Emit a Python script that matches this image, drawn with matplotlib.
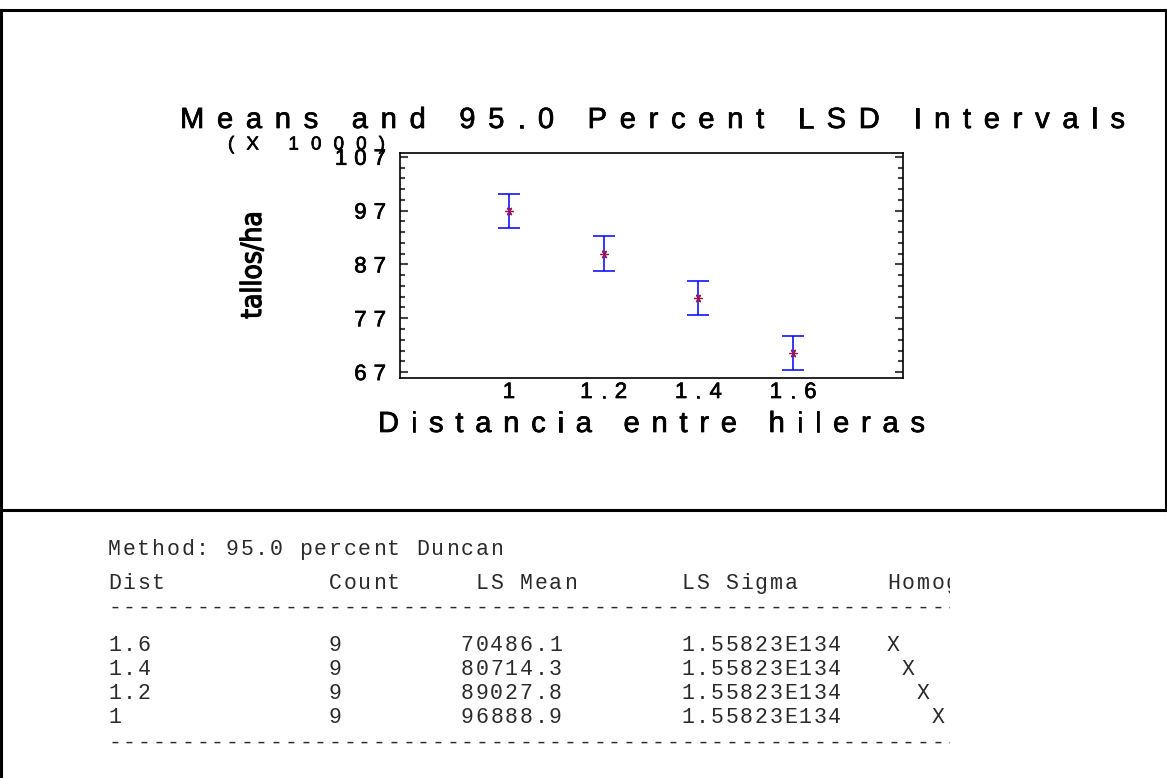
import matplotlib
matplotlib.use('Agg')
import matplotlib.pyplot as plt
import matplotlib.patheffects as pe
import numpy as np
from matplotlib.font_manager import FontProperties, findfont, get_font
from matplotlib.lines import Line2D
from matplotlib.transforms import Bbox

# data (LS means and LSD half widths, tallos/ha)
dist = [1.0, 1.2, 1.4, 1.6]
means = [96888.9, 89027.8, 80714.3, 70486.1]
lsd_half = [3170, 3170, 3170, 3170]
counts = [9, 9, 9, 9]
ls_sigma = ['1.55823E134', '1.55823E134', '1.55823E134', '1.55823E134']
yticks = [67, 77, 87, 97, 107]

W, H = 1167, 778
fig = plt.figure(figsize=(W / 100, H / 100), dpi=100)
heavy = [pe.withStroke(linewidth=0.5, foreground='black')]


def fx(x):
    return x / W


def fy(y):
    return 1 - y / H


def advances(s, fp):
    font = get_font(findfont(fp))
    font.set_size(fp.get_size_in_points(), 100)
    return [font.load_char(ord(c)).linearHoriAdvance / 65536 for c in s]


def spaced(s, x, base, size, track=0.0, ha='left', fit=None, family='Liberation Sans'):
    """draw text char by char with extra letter spacing (pixel coords, top origin)"""
    fp = FontProperties(family=family, size=size)
    adv = advances(s, fp)
    if fit is not None:
        track = (fit[1] - fit[0] - sum(adv)) / max(len(s) - 1, 1)
        x, ha = fit[0], 'left'
    total = sum(adv) + track * (len(s) - 1)
    if ha == 'center':
        x = x - total / 2
    elif ha == 'right':
        x = x - total
    for c, a in zip(s, adv):
        if c != ' ':
            fig.text(fx(x), fy(base), c, fontproperties=fp, color='black',
                     ha='left', va='baseline', path_effects=heavy)
        x += a + track


# frame lines
lw = 2.2
fig.add_artist(Line2D([0, 1], [fy(10), fy(10)], color='black', lw=lw))
fig.add_artist(Line2D([0, 1], [fy(510), fy(510)], color='black', lw=lw))
fig.add_artist(Line2D([fx(1.2), fx(1.2)], [0, fy(10)], color='black', lw=lw))
fig.add_artist(Line2D([fx(1165.5), fx(1165.5)], [fy(510), fy(10)], color='black', lw=lw))

# plot
ax = fig.add_axes([fx(400), fy(378), 503 / W, 225 / H])
means_k = [m / 1000 for m in means]
half_k = [h / 1000 for h in lsd_half]
ax.errorbar(dist, means_k, yerr=half_k, fmt='none', ecolor='#0000ff',
            elinewidth=1.1, capsize=8, capthick=1.1)
ax.plot(dist, means_k, linestyle='none', marker=(6, 2, 90), ms=6,
        mec='#9c1450', mew=0.9)
ax.set_xlim(0.77, 1.832)
ax.set_ylim(65.9, 107.7)
ax.set_xticks(dist)
ax.set_yticks(yticks)
ax.set_yticks(np.arange(67, 108, 2), minor=True)
ax.tick_params(axis='y', which='both', direction='in', left=True, right=True,
               labelleft=False, color='#444444', width=1.5)
ax.tick_params(axis='y', which='major', length=6)
ax.tick_params(axis='y', which='minor', length=3.5)
ax.tick_params(axis='x', which='both', length=0, labelbottom=False)
for sp in ax.spines.values():
    sp.set_linewidth(1.2)

# tick labels with the wide letter spacing of the original
for v in yticks:
    _, py = ax.transData.transform((1.0, v))
    spaced(str(v), 386, H - py + 8, 16, track=7, ha='right')
for d in dist:
    px, _ = ax.transData.transform((d, 70))
    spaced(f'{d:g}', px, 398, 16, track=8, ha='center')

spaced('Means and 95.0 Percent LSD Intervals', 0, 128, 21, fit=(180, 1125))
spaced('(X 1000)', 0, 149.5, 13.5, fit=(228, 385))
spaced('Distancia entre hileras', 0, 432, 21, fit=(378, 925))

# condensed vertical y label, sized to the original length
ylab = fig.text(fx(253), fy(265), 'tallos/ha', rotation=90, ha='center', va='center',
                fontproperties=FontProperties(family=['Liberation Sans Narrow', 'DejaVu Sans'],
                                              stretch='condensed', size=24),
                path_effects=[pe.withStroke(linewidth=0.9, foreground='black')])
fig.canvas.draw()
bb = ylab.get_window_extent()
ylab.set_fontsize(24 * 108 / bb.height)

# Duncan table
pitch = 14.7
x_tab = 108
clip = Bbox.from_extents(0, 0, 950, H)
mono = FontProperties(family='Liberation Mono', size=15.5)


def mono_text(s, col, base):
    for i, c in enumerate(s):
        if c != ' ':
            t = fig.text(fx(x_tab + (col + i) * pitch), fy(base), c, fontproperties=mono,
                         color='#2a2a2a', ha='left', va='baseline')
            t.set_clip_box(clip)
            t.set_clip_on(True)


mono_text('Method: 95.0 percent Duncan', 0, 555)
header_base = 589
for txt, col in [('Dist', 0), ('Count', 15), ('LS Mean', 25), ('LS Sigma', 39),
                 ('Homogeneous Groups', 53)]:
    mono_text(txt, col, header_base)
mono_text('-' * 60, 0, 614)
order = np.argsort(means)
row_base = [651, 675, 699, 723]
for k, i in enumerate(order):
    b = row_base[k]
    mono_text(f'{dist[i]:g}', 0, b)
    mono_text(str(counts[i]), 15, b)
    mono_text(f'{means[i]:.1f}', 24, b)
    mono_text(ls_sigma[i], 39, b)
    mono_text('X', 53 + k, b)
mono_text('-' * 60, 0, 749)

fig.savefig('out.png', dpi=100)
